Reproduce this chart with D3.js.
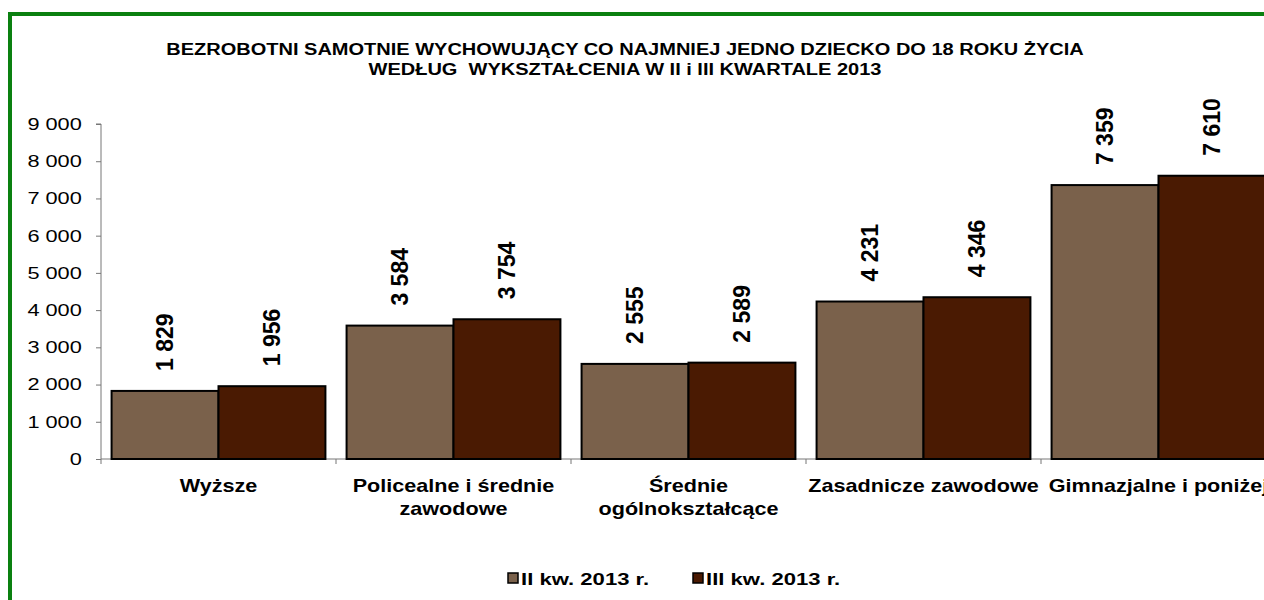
<!DOCTYPE html>
<html>
<head>
<meta charset="utf-8">
<script src="https://cdn.jsdelivr.net/npm/d3@7"></script>
<style>
  body { margin: 0; background: #fff; }
  svg { display: block; font-family: "Liberation Sans", Arial, sans-serif; }
</style>
</head>
<body>
<svg id="chart" width="1264" height="600"></svg>
<script>
const categories = [
  ["Wyższe"],
  ["Policealne i średnie", "zawodowe"],
  ["Średnie", "ogólnokształcące"],
  ["Zasadnicze zawodowe"],
  ["Gimnazjalne i poniżej"],
];
const seriesNames = ["II kw. 2013 r.", "III kw. 2013 r."];
const q2Values = [1829, 3584, 2555, 4231, 7359];
const q3Values = [1956, 3754, 2589, 4346, 7610];
const yTicks = [0, 1000, 2000, 3000, 4000, 5000, 6000, 7000, 8000, 9000];
const titleLines = [
  "BEZROBOTNI SAMOTNIE WYCHOWUJĄCY CO NAJMNIEJ JEDNO DZIECKO DO 18 ROKU ŻYCIA",
  "WEDŁUG  WYKSZTAŁCENIA W II i III KWARTALE 2013",
];

const colors = ["#7a614b", "#4a1a02"];
const fmt = (v) => d3.format(",")(v).replace(/,/g, " ");

const svg = d3.select("#chart");

// the source text is drawn wider than the font normally is
const wideText = (parent, x, y, sx, lines, size, lineGap) => {
  const t = parent.append("g")
    .attr("transform", `translate(${x},${y}) scale(${sx},1)`)
    .append("text")
    .attr("text-anchor", "middle")
    .style("font-size", size + "px")
    .style("font-weight", "bold")
    .style("white-space", "pre");
  t.selectAll("tspan")
    .data(lines)
    .join("tspan")
    .attr("x", 0)
    .attr("y", (d, i) => i * lineGap)
    .text((d) => d);
  return t;
};

// green frame, runs off the right edge
svg.append("rect")
  .attr("x", 10).attr("y", 14)
  .attr("width", 1300).attr("height", 620)
  .attr("fill", "none")
  .attr("stroke", "#0a8010")
  .attr("stroke-width", 4);

wideText(svg, 625, 55, 1.25, titleLines, 16, 20);

const left = 101, step = 235;
const x = d3.scaleBand()
  .domain(d3.range(categories.length))
  .range([left, left + step * categories.length])
  .paddingInner(0.09)
  .paddingOuter(0.045);
const xSub = d3.scaleBand().domain([0, 1]).range([0, x.bandwidth()]);

const y = d3.scaleLinear().domain([0, 9000]).range([459, 124]);

// y axis
const yAxis = svg.append("g")
  .attr("transform", `translate(${left},0)`)
  .call(d3.axisLeft(y).tickValues(yTicks).tickSize(5).tickPadding(10).tickFormat(fmt));
yAxis.selectAll("text")
  .style("font-size", "17px")
  .attr("fill", "#000")
  .attr("transform", "scale(1.28,1)");
yAxis.selectAll("line, path").attr("stroke", "#777");
yAxis.select(".domain").attr("d", `M-5,${y(9000)}H0V${y(0)}`);

// x axis line with ticks between categories
const xAxis = svg.append("g");
xAxis.append("line")
  .attr("x1", left).attr("x2", 1264)
  .attr("y1", y(0)).attr("y2", y(0))
  .attr("stroke", "#777");
xAxis.selectAll("line.tick")
  .data(d3.range(categories.length + 1))
  .join("line")
  .attr("class", "tick")
  .attr("x1", (d) => left + d * step).attr("x2", (d) => left + d * step)
  .attr("y1", y(0)).attr("y2", y(0) + 5)
  .attr("stroke", "#777");

const series = [q2Values, q3Values];
series.forEach((vals, s) => {
  const g = svg.append("g");
  g.selectAll("rect")
    .data(vals)
    .join("rect")
    .attr("x", (d, i) => x(i) + xSub(s))
    .attr("y", (d) => y(d))
    .attr("width", xSub.bandwidth())
    .attr("height", (d) => y(0) - y(d))
    .attr("fill", colors[s])
    .attr("stroke", "#000")
    .attr("stroke-width", 2);
  g.selectAll("text")
    .data(vals)
    .join("text")
    .attr("transform", (d, i) => `translate(${x(i) + xSub(s) + xSub.bandwidth() / 2 + 8},${y(d) - 20}) rotate(-90)`)
    .style("font-size", "23px")
    .style("font-weight", "bold")
    .text((d) => fmt(d));
});

// category labels
const catG = svg.append("g");
categories.forEach((lines, i) => {
  wideText(catG, x(i) + x.bandwidth() / 2, 492, 1.2, lines, 18, 23);
});

// legend
const legendX = [508, 693];
const legend = svg.append("g")
  .selectAll("g")
  .data(seriesNames)
  .join("g")
  .attr("transform", (d, i) => `translate(${legendX[i]},573)`);
legend.append("rect")
  .attr("width", 10).attr("height", 10)
  .attr("fill", (d, i) => colors[i])
  .attr("stroke", "#000").attr("stroke-width", 1.5);
legend.append("text")
  .attr("transform", "translate(13,12) scale(1.3,1)")
  .style("font-size", "17px")
  .style("font-weight", "bold")
  .text((d) => d);
</script>
</body>
</html>
